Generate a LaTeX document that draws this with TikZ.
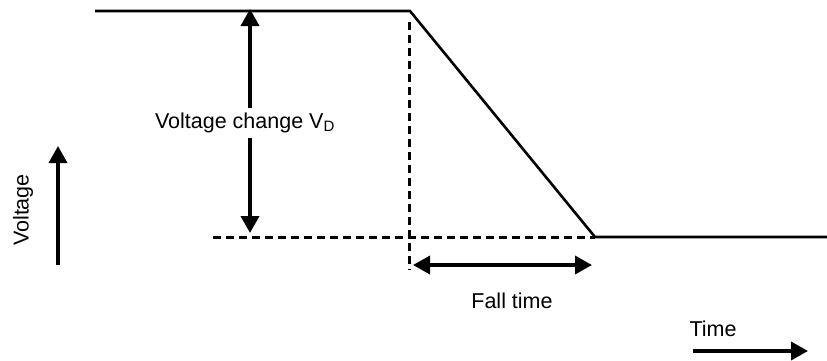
\documentclass[tikz,border=0pt]{standalone}
\usepackage{fontspec}
\setmainfont{Liberation Sans}
\usetikzlibrary{arrows.meta,positioning,calc}

\begin{document}
\begin{tikzpicture}[x=1pt, y=-1pt,
    signal/.style={line width=2.6pt},
    guide/.style={line width=3pt, dash pattern=on 8pt off 5pt},
    dim/.style={line width=3.5pt, {Triangle[length=17pt,width=18pt]}-{Triangle[length=17pt,width=18pt]}},
    axis/.style={line width=3.5pt, -{Triangle[length=17pt,width=18pt]}},
    lbl/.style={font=\fontsize{21.5}{25}\selectfont, inner sep=2pt},
]
    \useasboundingbox (0,0) rectangle (827,360);
    % Waveform
    \coordinate (hiL) at (95,11);
    \coordinate (hiR) at (410,11);
    \coordinate (loL) at (595,237);
    \coordinate (loR) at (827,237);
    \draw[signal] (hiL) -- (hiR) -- (loL) -- (loR);
    % Reference lines
    \coordinate (refL) at (213,237);
    \coordinate (markT) at (409,22);
    \coordinate (markB) at (409,270);
    \draw[guide] (refL) -- (loL);
    \draw[guide] (markT) -- (markB);
    % Voltage change
    \coordinate (vdT) at (250,9);
    \coordinate (vdB) at (250,233);
    \draw[dim] (vdT) -- (vdB);
    \node[lbl, fill=white, inner sep=5pt] (vd) at (245,123) {Voltage change V\textsubscript{D}};
    % Fall time
    \coordinate (ftL) at (413,265);
    \coordinate (ftR) at (592,265);
    \draw[dim] (ftL) -- (ftR);
    \node[lbl] (ft) at (512,301) {Fall time};
    % Axes
    \coordinate (vaB) at (58,265);
    \coordinate (vaT) at (58,146);
    \draw[axis] (vaB) -- (vaT);
    \node[lbl, rotate=90] (va) at (23,210) {Voltage};
    \coordinate (taL) at (693,351);
    \coordinate (taR) at (808,351);
    \draw[axis] (taL) -- (taR);
    \node[lbl] (ta) at (713,329) {Time};
\end{tikzpicture}
\end{document}
